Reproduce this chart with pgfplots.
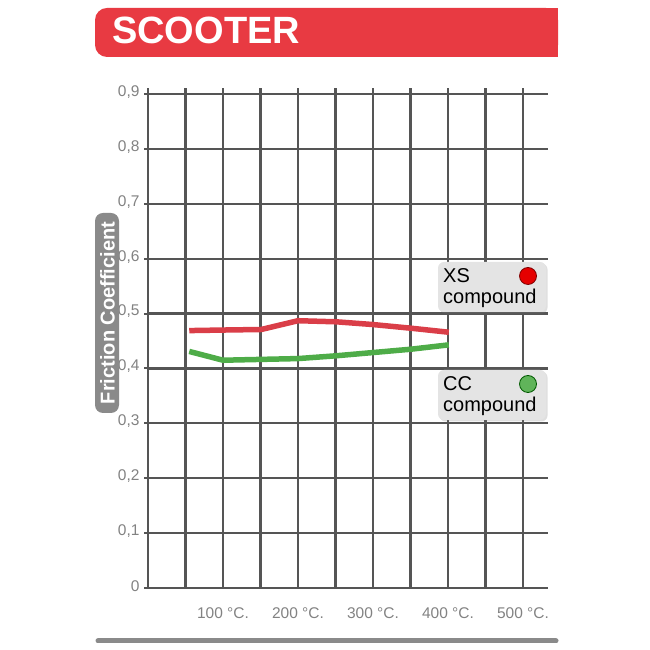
\documentclass[border=0pt]{standalone}
\usepackage{pgfplots}
\pgfplotsset{compat=1.18}
\usepackage{fontspec}
\setmainfont{Liberation Sans}
\usetikzlibrary{shadows}
\definecolor{titlered}{RGB}{232,58,66}
\definecolor{gridcol}{RGB}{85,85,85}
\definecolor{ticklab}{RGB}{130,130,130}
\definecolor{xsred}{RGB}{218,62,72}
\definecolor{ccgreen}{RGB}{78,172,72}
\definecolor{boxgray}{RGB}{228,228,228}
\definecolor{labgray}{RGB}{138,138,138}
\begin{document}
\begin{tikzpicture}[x=1pt,y=1pt]
\useasboundingbox (0,0) rectangle (650,650);
% title banner
\fill[titlered, rounded corners=12pt] (95,593) rectangle (558,642);
\fill[titlered] (300,593) rectangle (558,642);
\node[anchor=base west, text=white, inner sep=0pt, font=\fontsize{38}{38}\selectfont\bfseries] at (112,606) {SCOOTER};
\begin{axis}[
  at={(148pt,62pt)}, anchor=origin,
  scale only axis, width=400pt, height=500pt,
  xmin=0, xmax=533.3, ymin=0, ymax=0.911,
  axis x line*=bottom, axis y line*=left,
  axis line style={draw=gridcol, line width=2.2pt, -},
  xtick={50,100,150,200,250,300,350,400,450,500},
  xticklabels={,100 °C.,,200 °C.,,300 °C.,,400 °C.,,500 °C.},
  ytick={0,0.1,0.2,0.3,0.4,0.5,0.6,0.7,0.8,0.9},
  yticklabels={0,{0,1},{0,2},{0,3},{0,4},{0,5},{0,6},{0,7},{0,8},{0,9}},
  grid=major,
  major grid style={draw=gridcol, line width=2.2pt},
  xtick style={draw=none},
  ytick style={draw=gridcol, line width=2pt},
  tick align=outside, major tick length=4pt,
  ticklabel style={text=ticklab, font=\fontsize{15.5}{15.5}\selectfont},
  xticklabel style={yshift=-12pt},
  yticklabel style={xshift=-1pt, yshift=2pt},
  clip=false,
]
\addplot[xsred, line width=5.5pt, line join=round] coordinates {
 (55,0.469) (100,0.470) (151,0.471) (200,0.487) (251,0.485) (300,0.480) (353,0.473) (401,0.466)
};
\addplot[ccgreen, line width=5.5pt, line join=round] coordinates {
 (55,0.431) (100,0.415) (200,0.418) (250,0.423) (300,0.429) (350,0.435) (401,0.443)
};
\end{axis}
% y label box
\fill[labgray, rounded corners=8pt] (95,237) rectangle (119,437);
\node[rotate=90, text=white, inner sep=0pt, font=\fontsize{20}{20}\selectfont\bfseries] at (107.5,337) {Friction Coefficient};
% legend boxes
\fill[boxgray, rounded corners=6pt, drop shadow={opacity=0.25, shadow xshift=1.5pt, shadow yshift=-1.5pt}] (438,338) rectangle (546,388);
\node[anchor=base west, inner sep=0pt, font=\fontsize{20}{20}\selectfont] at (443,367) {XS};
\node[anchor=base west, inner sep=0pt, font=\fontsize{20}{20}\selectfont] at (443,346) {compound};
\filldraw[fill=red!90!black, draw=red!50!black, line width=0.8pt] (528,374) circle (8.5);
\fill[boxgray, rounded corners=6pt, drop shadow={opacity=0.25, shadow xshift=1.5pt, shadow yshift=-1.5pt}] (438,230) rectangle (546,280);
\node[anchor=base west, inner sep=0pt, font=\fontsize{20}{20}\selectfont] at (443,259) {CC};
\node[anchor=base west, inner sep=0pt, font=\fontsize{20}{20}\selectfont] at (443,238) {compound};
\filldraw[fill=ccgreen!90!white, draw=green!35!black, line width=0.8pt] (528,266) circle (8.5);
% bottom rule
\draw[labgray, line width=5pt, line cap=round] (98,9) -- (556,9);
\end{tikzpicture}
\end{document}
